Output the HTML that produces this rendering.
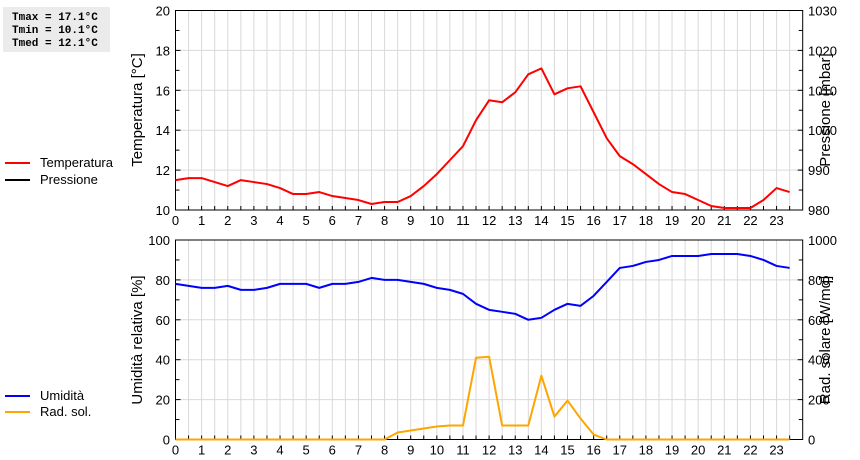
<!DOCTYPE html>
<html><head><meta charset="utf-8"><style>
html,body{margin:0;padding:0;background:#fff;width:860px;height:460px;overflow:hidden}
svg{display:block;font-family:"Liberation Sans",sans-serif}
</style></head><body>
<svg id="c" width="860" height="460" xmlns="http://www.w3.org/2000/svg">
<rect x="3" y="7" width="107" height="45" fill="#ebebeb"/>
<g font-family="Liberation Mono, monospace" font-weight="bold" font-size="11">
<text x="12" y="20">Tmax = 17.1°C</text>
<text x="12" y="33">Tmin = 10.1°C</text>
<text x="12" y="46">Tmed = 12.1°C</text>
</g>
<g font-size="13">
<line x1="5" y1="163" x2="30" y2="163" stroke="#f00" stroke-width="2"/>
<text x="40" y="167">Temperatura</text>
<line x1="5" y1="180" x2="30" y2="180" stroke="#000" stroke-width="2"/>
<text x="40" y="184">Pressione</text>
<line x1="5" y1="396" x2="30" y2="396" stroke="#00f" stroke-width="2"/>
<text x="40" y="400">Umidità</text>
<line x1="5" y1="412" x2="30" y2="412" stroke="#ffa500" stroke-width="2"/>
<text x="40" y="416">Rad. sol.</text>
</g>
<text transform="translate(142,110) rotate(-90)" text-anchor="middle" font-size="15">Temperatura [°C]</text>
<text transform="translate(830,110) rotate(-90)" text-anchor="middle" font-size="15">Pressione [mbar]</text>
<text transform="translate(142,340) rotate(-90)" text-anchor="middle" font-size="15">Umidità relativa [%]</text>
<text transform="translate(830,340) rotate(-90)" text-anchor="middle" font-size="15">Rad. solare [W/mq]</text>
</svg>
<script>
const hours = [0,0.5,1,1.5,2,2.5,3,3.5,4,4.5,5,5.5,6,6.5,7,7.5,8,8.5,9,9.5,10,10.5,11,11.5,12,12.5,13,13.5,14,14.5,15,15.5,16,16.5,17,17.5,18,18.5,19,19.5,20,20.5,21,21.5,22,22.5,23,23.5];
const temperature = [11.5,11.6,11.6,11.4,11.2,11.5,11.4,11.3,11.1,10.8,10.8,10.9,10.7,10.6,10.5,10.3,10.4,10.4,10.7,11.2,11.8,12.5,13.2,14.5,15.5,15.4,15.9,16.8,17.1,15.8,16.1,16.2,14.9,13.6,12.7,12.3,11.8,11.3,10.9,10.8,10.5,10.2,10.1,10.1,10.1,10.5,11.1,10.9];
const humidity = [78,77,76,76,77,75,75,76,78,78,78,76,78,78,79,81,80,80,79,78,76,75,73,68,65,64,63,60,61,65,68,67,72,79,86,87,89,90,92,92,92,93,93,93,92,90,87,86];
const radiation = [0,0,0,0,0,0,0,0,0,0,0,0,0,0,0,0,0,35,45,55,65,70,70,410,415,70,70,70,320,115,195,105,25,0,0,0,0,0,0,0,0,0,0,0,0,0,0,0];
const xTicks = [0,1,2,3,4,5,6,7,8,9,10,11,12,13,14,15,16,17,18,19,20,21,22,23];
const tempTicks = [10,12,14,16,18,20];
const presTicks = [980,990,1000,1010,1020,1030];
const humTicks = [0,20,40,60,80,100];
const radTicks = [0,200,400,600,800,1000];

const NS = "http://www.w3.org/2000/svg";
const svg = document.getElementById("c");
const X0 = 175.5, X1 = 802.7;
const xs = h => X0 + (X1 - X0) * h / 24;
function mk(tag, attrs, parent) {
  const e = document.createElementNS(NS, tag);
  for (const k in attrs) e.setAttribute(k, attrs[k]);
  (parent || svg).appendChild(e);
  return e;
}
function panel(top, bot, lTicks, rTicks, lMin, lMax, name) {
  const g = mk("g", {});
  
  
  const ys = v => bot - (bot - top) * (v - lMin) / (lMax - lMin);
  for (let h = 0.5; h < 24; h += 0.5) {
    const l = mk("line", {x1: xs(h), x2: xs(h), y1: top, y2: bot, stroke: "#d9d9d9", "stroke-width": 1}, g);
    
    
  }
  lTicks.forEach((v, i) => {
    const y = ys(v);
    const l = mk("line", {x1: X0, x2: X1, y1: y, y2: y, stroke: "#d9d9d9", "stroke-width": 1}, g);
    
    
    const t = mk("text", {x: 170, y: y + 5, "text-anchor": "end", "font-size": 13}, g);
    
    
    t.textContent = v;
    const t2 = mk("text", {x: 808, y: y + 5, "font-size": 13}, g);
    
    
    t2.textContent = rTicks[i];
    if (i < lTicks.length - 1) {
      const ym = ys(v + (lTicks[1] - lTicks[0]) / 2);
      mk("line", {x1: X0, x2: X0 + 4, y1: ym, y2: ym, stroke: "#000"}, g);
      mk("line", {x1: X1 - 4, x2: X1, y1: ym, y2: ym, stroke: "#000"}, g);
    }
    mk("line", {x1: X0, x2: X0 + 5, y1: y, y2: y, stroke: "#000"}, g);
    mk("line", {x1: X1 - 5, x2: X1, y1: y, y2: y, stroke: "#000"}, g);
  });
  xTicks.forEach(h => {
    const t = mk("text", {x: xs(h), y: bot + 15, "text-anchor": "middle", "font-size": 13}, g);
    
    
    t.textContent = h;
  });
  for (let h = 0.5; h < 24; h += 0.5) mk("line", {x1: xs(h), x2: xs(h), y1: bot - 4, y2: bot, stroke: "#000"}, g);
  const b = mk("rect", {x: X0, y: top, width: X1 - X0, height: bot - top, fill: "none", stroke: "#000", "stroke-width": 1}, g);
  
  
  return ys;
}
function series(vals, ys, color, name) {
  const p = mk("polyline", {points: hours.map((h, i) => xs(h) + "," + ys(vals[i])).join(" "), fill: "none", stroke: color, "stroke-width": 2, "stroke-linejoin": "round"});
  
  
}
const yT = panel(10.5, 210, tempTicks, presTicks, 10, 20, "temperature");
series(temperature, yT, "#f00", "temperature-line");
const yH = panel(240, 439.5, humTicks, radTicks, 0, 100, "humidity");
const yR = v => yH(v / 10);
series(radiation, yR, "#ffa500", "radiation-line");
series(humidity, yH, "#00f", "humidity-line");
</script>
</body></html>
